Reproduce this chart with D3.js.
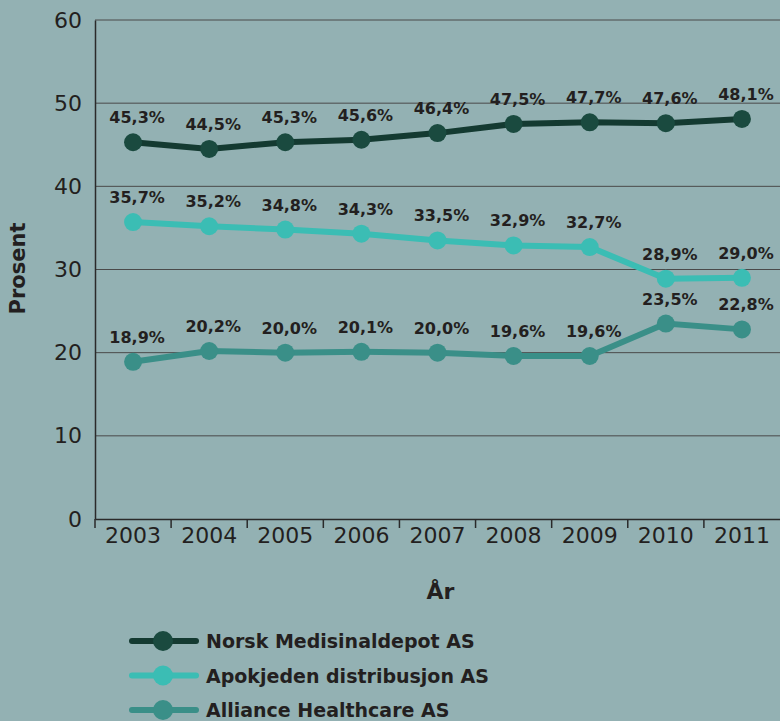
<!DOCTYPE html>
<html>
<head>
<meta charset="utf-8">
<script src="https://cdn.jsdelivr.net/npm/d3@7"></script>
<style>
  html, body { margin: 0; padding: 0; background: #93b1b3; }
  svg { display: block; }
</style>
</head>
<body>
<div class="chart"></div>
<script>
// data
var years = ["2003", "2004", "2005", "2006", "2007", "2008", "2009", "2010", "2011"];
var seriesNames = ["Norsk Medisinaldepot AS", "Apokjeden distribusjon AS", "Alliance Healthcare AS"];
var nmd = [45.3, 44.5, 45.3, 45.6, 46.4, 47.5, 47.7, 47.6, 48.1];
var apokjeden = [35.7, 35.2, 34.8, 34.3, 33.5, 32.9, 32.7, 28.9, 29.0];
var alliance = [18.9, 20.2, 20.0, 20.1, 20.0, 19.6, 19.6, 23.5, 22.8];
var yTicks = [0, 10, 20, 30, 40, 50, 60];
var colors = ["#1a4a3f", "#3bbdb4", "#3a8f88"];
var lineColors = ["#143a31", "#3bbdb4", "#3a8f88"];

var width = 780, height = 721;
var margin = {top: 20, right: 0, bottom: 202, left: 95};
var w = width - margin.left - margin.right,
    h = height - margin.top - margin.bottom;
var font = "DejaVu Sans, Verdana, sans-serif";

var svg = d3.select(".chart").append("svg")
    .attr("width", width)
    .attr("height", height);

var g = svg.append("g")
    .attr("transform", "translate(" + margin.left + "," + margin.top + ")");

var x = d3.scaleBand().domain(years).range([0, w]);
var y = d3.scaleLinear().domain([0, 60]).range([h, 0]);

// gridlines
g.selectAll("line.grid")
  .data(yTicks.filter(function(d) { return d > 0; }))
  .enter().append("line")
    .attr("class", "grid")
    .attr("x1", 0).attr("x2", w)
    .attr("y1", function(d) { return y(d); })
    .attr("y2", function(d) { return y(d); })
    .attr("stroke", "#4a4a4a")
    .attr("stroke-width", 1);

// y axis
var yAxis = g.append("g")
    .call(d3.axisLeft(y).tickValues(yTicks).tickSize(0).tickPadding(13));
yAxis.select(".domain").attr("stroke", "#2a2a2a").attr("stroke-width", 1.5);
yAxis.selectAll("text")
    .attr("fill", "#231f20")
    .style("font-family", font)
    .style("font-size", "22px");

// x axis, ticks on band edges
var xAxis = g.append("g")
    .attr("transform", "translate(0," + h + ")")
    .call(d3.axisBottom(x).tickSize(0).tickPadding(8));
xAxis.select(".domain").attr("stroke", "#2a2a2a").attr("stroke-width", 1.5);
xAxis.selectAll("text")
    .attr("fill", "#231f20")
    .style("font-family", font)
    .style("font-size", "22px");
xAxis.selectAll("line.edge")
  .data(years)
  .enter().append("line")
    .attr("class", "edge")
    .attr("x1", function(d) { return x(d); })
    .attr("x2", function(d) { return x(d); })
    .attr("y1", 0).attr("y2", 9)
    .attr("stroke", "#2a2a2a")
    .attr("stroke-width", 1.5);

// series
var allSeries = [nmd, apokjeden, alliance];
var line = d3.line()
    .x(function(d, i) { return x(years[i]) + x.bandwidth() / 2; })
    .y(function(d) { return y(d); });

allSeries.forEach(function(vals, s) {
  g.append("path")
    .datum(vals)
    .attr("d", line)
    .attr("fill", "none")
    .attr("stroke", lineColors[s])
    .attr("stroke-width", 6);

  g.selectAll("circle.s" + s)
    .data(vals)
    .enter().append("circle")
      .attr("class", "s" + s)
      .attr("cx", function(d, i) { return x(years[i]) + x.bandwidth() / 2; })
      .attr("cy", function(d) { return y(d); })
      .attr("r", 9)
      .attr("fill", colors[s]);

  g.selectAll("text.l" + s)
    .data(vals)
    .enter().append("text")
      .attr("class", "l" + s)
      .attr("x", function(d, i) { return x(years[i]) + x.bandwidth() / 2 + 4; })
      .attr("y", function(d) { return y(d) - 19; })
      .attr("text-anchor", "middle")
      .attr("fill", "#231f20")
      .style("font-family", font)
      .style("font-weight", "bold")
      .style("font-size", "16px")
      .text(function(d) { return d.toFixed(1).replace(".", ",") + "%"; });
});

// axis titles
svg.append("text")
    .attr("transform", "translate(25," + (margin.top + h / 2 - 1) + ") rotate(-90)")
    .attr("text-anchor", "middle")
    .attr("fill", "#231f20")
    .style("font-family", font)
    .style("font-weight", "bold")
    .style("font-size", "21px")
    .text("Prosent");

svg.append("text")
    .attr("x", margin.left + w / 2 + 3)
    .attr("y", 599)
    .attr("text-anchor", "middle")
    .attr("fill", "#231f20")
    .style("font-family", font)
    .style("font-weight", "bold")
    .style("font-size", "22px")
    .text("År");

// legend
var legend = svg.append("g").attr("transform", "translate(130,641)");
seriesNames.forEach(function(name, s) {
  var row = legend.append("g").attr("transform", "translate(0," + (s * 34.5) + ")");
  row.append("line")
    .attr("x1", 2).attr("x2", 66)
    .attr("y1", 0).attr("y2", 0)
    .attr("stroke", lineColors[s])
    .attr("stroke-width", 6)
    .attr("stroke-linecap", "round");
  row.append("circle")
    .attr("cx", 33).attr("cy", 0).attr("r", 10)
    .attr("fill", colors[s]);
  row.append("text")
    .attr("x", 76).attr("y", 7)
    .attr("fill", "#231f20")
    .style("font-family", font)
    .style("font-weight", "bold")
    .style("font-size", "19px")
    .text(name);
});
</script>
</body>
</html>
